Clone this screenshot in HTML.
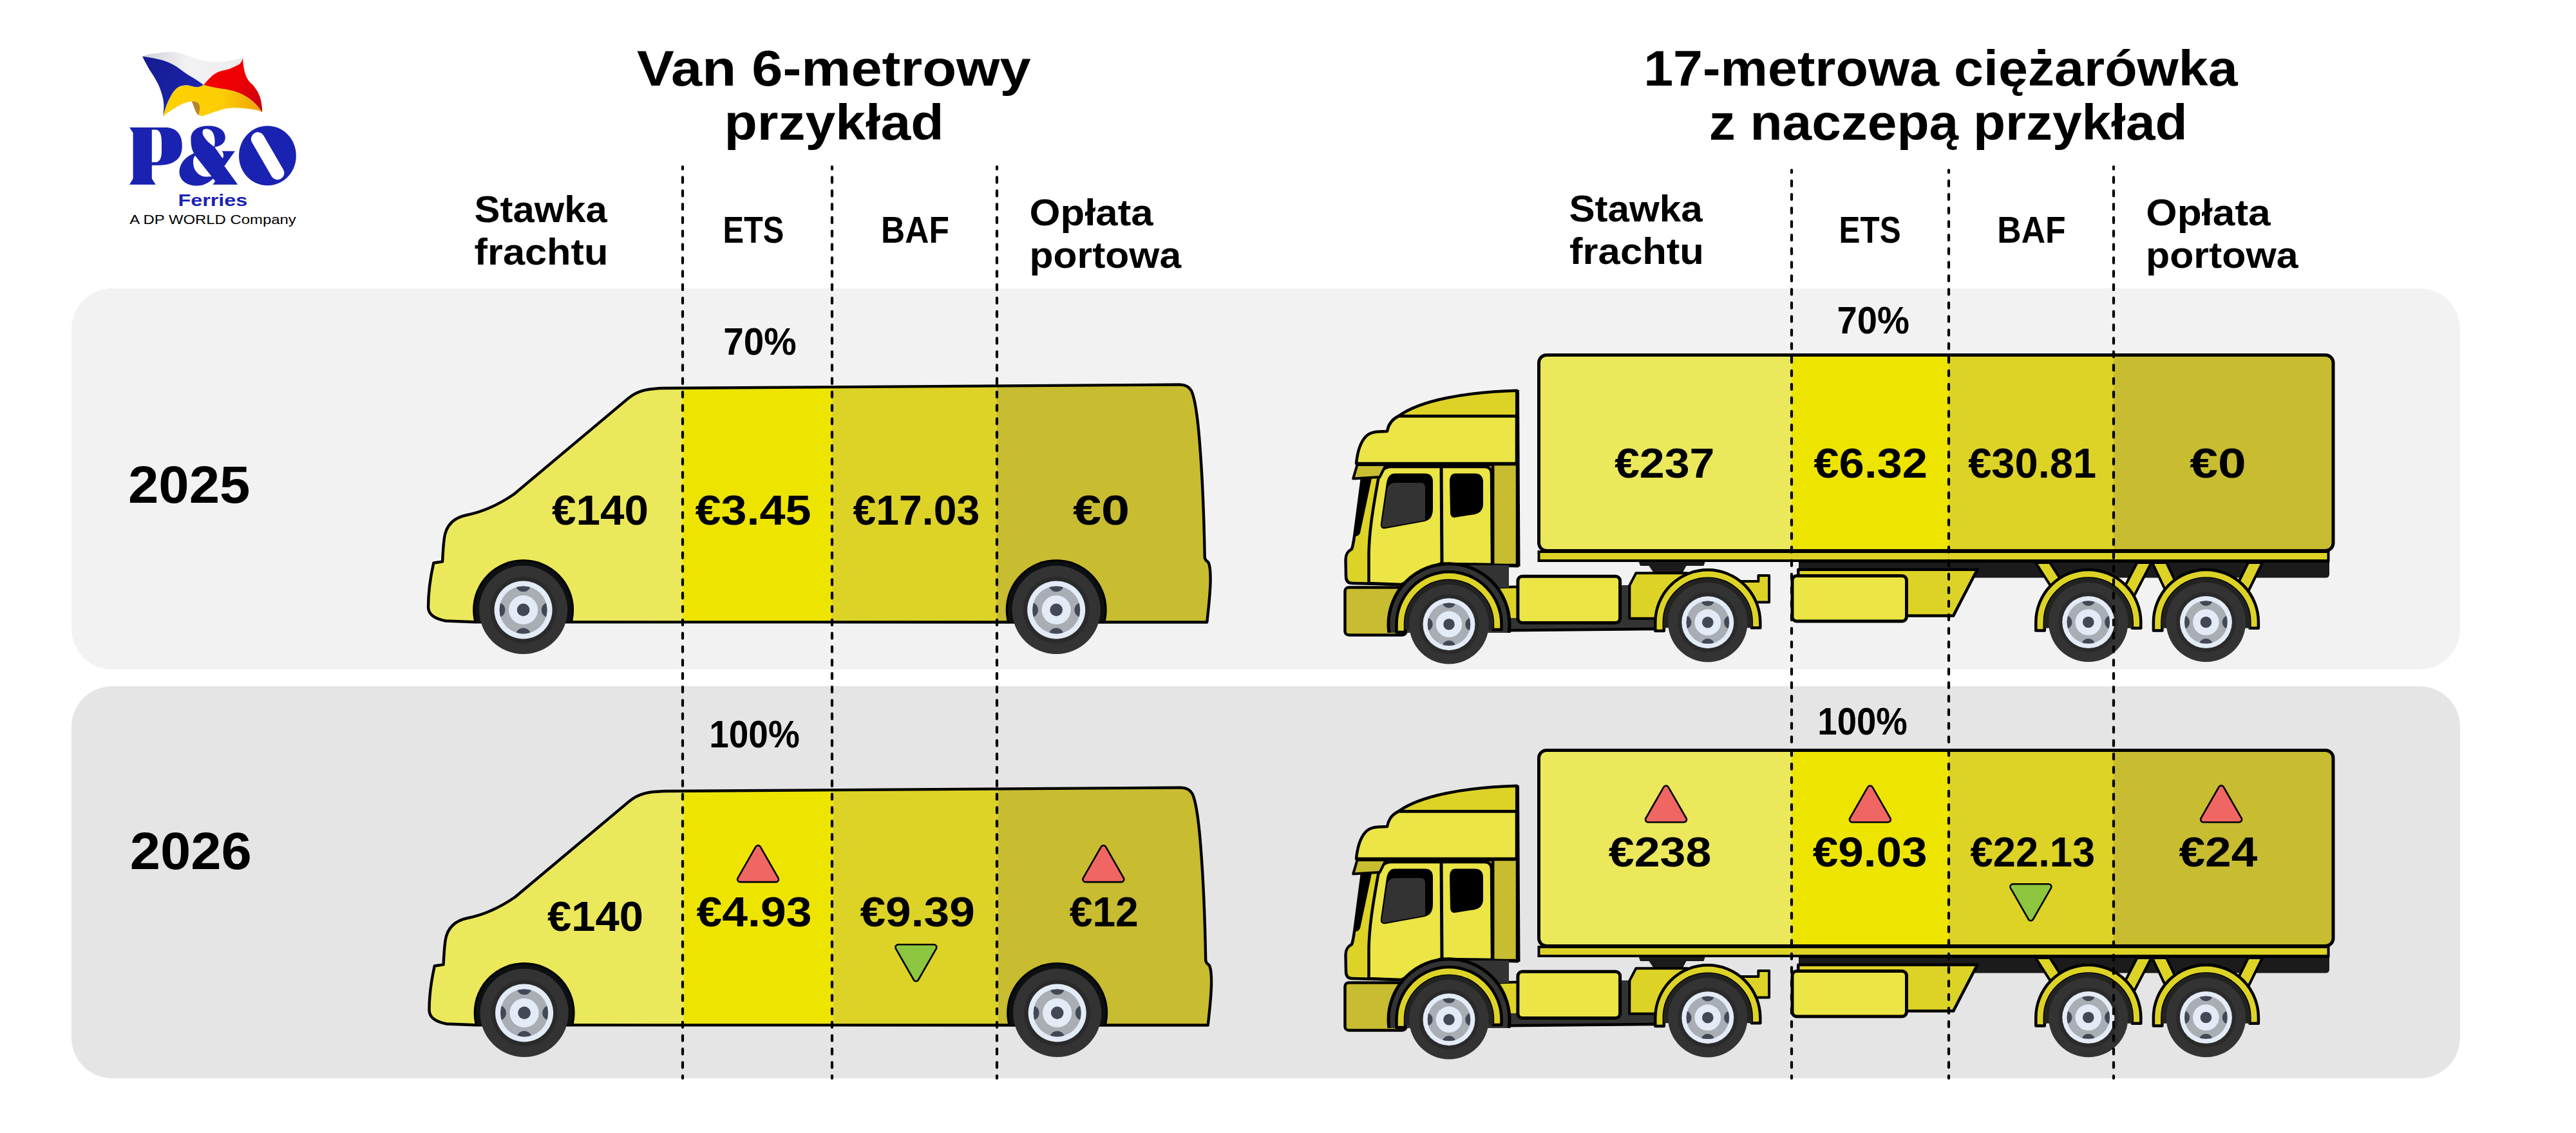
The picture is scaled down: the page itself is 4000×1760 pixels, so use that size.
<!DOCTYPE html>
<html><head><meta charset="utf-8"><title>P&amp;O Ferries</title>
<style>html,body{margin:0;padding:0;background:#fff;} body{width:4000px;height:1760px;overflow:hidden;font-family:"Liberation Sans",sans-serif;} svg{display:block;}</style>
</head><body>
<svg width="4000" height="1760" viewBox="0 0 4000 1760">
<rect width="4000" height="1760" fill="#ffffff"/>
<rect x="111" y="448" width="3709" height="592" rx="63" fill="#f2f2f2"/>
<rect x="111" y="1066" width="3709" height="609" rx="63" fill="#e5e5e5"/>

<defs>
<linearGradient id="gW" x1="0" y1="0" x2="1" y2="0"><stop offset="0" stop-color="#cfd0d6"/><stop offset="0.45" stop-color="#f2f2f4"/><stop offset="1" stop-color="#ececee"/></linearGradient>
<linearGradient id="gB" x1="0" y1="0" x2="1" y2="1"><stop offset="0" stop-color="#151a8c"/><stop offset="1" stop-color="#1f27b8"/></linearGradient>
<linearGradient id="gR" x1="0" y1="0" x2="1" y2="1"><stop offset="0" stop-color="#fa0000"/><stop offset="0.5" stop-color="#ee0004"/><stop offset="1" stop-color="#c4000f"/></linearGradient>
<linearGradient id="gY" x1="0" y1="0" x2="1" y2="0"><stop offset="0" stop-color="#ffd200"/><stop offset="0.6" stop-color="#fccd05"/><stop offset="1" stop-color="#eda10a"/></linearGradient>
</defs>
<path d="M 221.1 87.6 C 228 85 234 84 240.2 83.1 C 250 81.5 258 80.6 265.3 80.6 C 275 81 283 83 290.5 86.1 C 298 89 304 91 310.6 93.1 C 318 95 327 96.6 335.8 96.6 C 345 96.6 353 95 360.9 93.6 C 367 92.5 372 91 377.5 89.6 L 371 100.2 C 365 103 360 105.5 355.9 107.2 C 349 109 343 110 337.8 112.2 C 332 115 329 118 325.7 121.3 C 322 125 319 129 316.1 131.9 C 310 127 300 121 290.5 115.3 C 283 110 277 105 270.4 101.2 C 263 97 257 95 250.2 93.1 C 240 90.5 230 89 221.1 87.6 Z" fill="url(#gW)"/>
<path d="M 221.1 87.6 C 230 89 240 90.5 250.2 93.1 C 257 95 263 97 270.4 101.2 C 277 105 283 110 290.5 115.3 C 300 121 310 127 316.1 131.9 C 312 134 309 135.5 305.6 135.4 C 300 135 295 132.5 290.5 132.4 C 284 132.3 279 133.5 275.4 136.4 C 271 140 268 144 266.3 147.5 C 260 158 256 170 253.3 180.7 C 254 175 254.5 168 254.3 162.5 C 254 155 252 148 250.2 142.4 C 248 136 246 131 243.2 126.3 C 240 120 236 114 232.1 108.2 C 228 101 224 94 221.1 87.6 Z" fill="url(#gB)"/>
<path d="M 377.5 89.6 C 377 94 377.5 98 378 102.2 C 379 108 380.5 115 383 120.3 C 386 126 389 129 393.1 132.4 C 396 136 399 140 401.1 144.4 C 404 150 405.5 156 406.2 162.5 C 407 167 407.2 171 407.2 174.6 C 402 166 394 158 386.1 152.5 C 380 148 373 145 365.9 142.4 C 357 139.5 349 138.5 340.8 137.4 C 332 136 323 134 316.1 131.9 C 319 129 322 125 325.7 121.3 C 329 118 332 115 337.8 112.2 C 343 110 349 109 355.9 107.2 C 360 105.5 365 103 371 100.2 C 374 98 376 94 377.5 89.6 Z" fill="url(#gR)"/>
<path d="M 316.1 131.9 C 323 134 332 136 340.8 137.4 C 349 138.5 357 139.5 365.9 142.4 C 373 145 380 148 386.1 152.5 C 394 158 402 166 407.2 174.6 C 403 172.5 400 171 396.1 170.6 C 391 169.5 386 168.8 381 168.6 C 374 168 367 167.5 360.9 167.6 C 354 168 347 169.5 340.8 171.6 C 335 173 330 175 325.7 176.6 C 321 178 317 180 313.6 180.7 C 311 180 309.5 178.5 308.6 176.6 C 307.5 173 307.5 169 307.6 165.6 C 307 162 306 160 304.6 158.5 C 302.5 157.5 300.5 157.3 298.5 157.5 C 294 157.7 290 158.8 285.5 160.5 C 280 162.5 275 165.5 270.4 168.6 C 264 172.5 258.5 176.5 253.3 180.7 C 256 170 260 158 266.3 147.5 C 268 144 271 140 275.4 136.4 C 279 133.5 284 132.3 290.5 132.4 C 295 132.5 300 135 305.6 135.4 C 309 135.5 312 134 316.1 131.9 Z" fill="url(#gY)"/>
<path d="M 297.5 157.5 C 302 157 306 158 308.5 161 C 310.5 164 310.6 168 309.8 172 C 309 175 308.8 177 309.5 179.5 C 307 178 305 176 303.6 172.6 C 301.5 168 300 162 297.5 157.5 Z" fill="#b5852a"/>
<path d="M 201 197.9 L 259.9 197.9 C 272 199 279 206 281.6 216 C 284 227 283 240 276 247 C 269 254 258 256.7 246.9 256.7 L 235.8 256.7 L 235.8 277.6 L 241.8 286.8 L 201 286.8 L 206.6 277.6 L 206.6 206.2 Z M 235.8 201.6 L 235.8 252.1 L 242.3 252.1 C 248 251 251 246 251 234 L 251 221 C 251 209 248 202 242.3 201.6 Z" fill="#1a22b2" fill-rule="evenodd"/>
<path d="M 415.4 195.6 C 440 195.6 459.8 216 459.8 241.9 C 459.8 268 440 288.1 415.4 288.1 C 390.9 288.1 371 268 371 241.9 C 371 216 390.9 195.6 415.4 195.6 Z" fill="#1a22b2"/><rect x="374.6" y="231.8" width="82" height="21" rx="10.5" transform="rotate(60 415.6 242.3)" fill="#fff"/>
<path fill="#1a22b2" fill-rule="evenodd" d="M 369.2 286.7 L 330.4 286.7 L 334.2 281.5 L 331 277.5 C 325 283 317 288.6 305.9 288.6 C 290 288.6 278.5 280 278.5 267 C 278.5 255 287 244 301.2 238 C 298 233 296.4 226 296.4 216 C 296.4 203 307 195.6 323.8 195.6 C 340 195.6 349.8 203 349.8 213.5 C 349.8 222 343 227 333.3 228.6 L 345.5 246 C 348 243 347.5 238 344.6 234.7 L 364.9 234.7 L 348.4 257.9 Z M 319.1 200.3 C 314 200.5 313.5 206 316 211 C 319 217 326 224 332.8 227.7 C 334.5 220 333.5 211 330 205 C 327 201 323 200 319.1 200.3 Z M 303 241.8 C 299 245 299.5 255 301.5 261 C 304 268 311 274.5 320 274.5 C 323 274.5 326 274 328.5 273.9 L 303 241.8 Z"/><text x="276.5" y="319.7" font-family="'Liberation Sans', sans-serif" font-weight="bold" font-size="26.6" fill="#1a22b2" textLength="107.8" lengthAdjust="spacingAndGlyphs">Ferries</text><text x="201.3" y="347.6" font-family="'Liberation Sans', sans-serif" font-weight="normal" font-size="19.7" fill="#000" textLength="258.4" lengthAdjust="spacingAndGlyphs">A DP WORLD Company</text>
<g><clipPath id="vbr1"><path d="M 1874.2 966.5 L 736.9 966.3 L 692 964.5 C 676 961.5 665 955 665 943 C 665 922 668 898 673.3 874.5 L 687.1 872.4 C 687.5 862 688 850 690 835 C 693 815 705 804 725 800 C 745 796 770 787 798.3 767.5 L 975.4 618.9 C 990 607 1003 604 1030 603 L 1831.8 597.5 C 1840 597.5 1846 600 1850 607 C 1856 620 1860 650 1863 690 C 1867 740 1869.5 800 1870.7 866 C 1871 869 1873 871 1876 873.3 C 1879 878 1879.8 890 1879.5 905 C 1879 925 1876.5 945 1874.2 966.5 Z"/></clipPath>
<g clip-path="url(#vbr1)"><rect x="600" y="560" width="460" height="420" fill="#ebe85c"/><rect x="1060" y="560" width="232" height="420" fill="#ede500"/><rect x="1292" y="560" width="256" height="420" fill="#ddd326"/><rect x="1548" y="560" width="400" height="420" fill="#c8bc30"/></g>
<path d="M 1874.2 966.5 L 736.9 966.3 L 692 964.5 C 676 961.5 665 955 665 943 C 665 922 668 898 673.3 874.5 L 687.1 872.4 C 687.5 862 688 850 690 835 C 693 815 705 804 725 800 C 745 796 770 787 798.3 767.5 L 975.4 618.9 C 990 607 1003 604 1030 603 L 1831.8 597.5 C 1840 597.5 1846 600 1850 607 C 1856 620 1860 650 1863 690 C 1867 740 1869.5 800 1870.7 866 C 1871 869 1873 871 1876 873.3 C 1879 878 1879.8 890 1879.5 905 C 1879 925 1876.5 945 1874.2 966.5 Z" fill="none" stroke="#000" stroke-width="4.4" stroke-linejoin="round"/>
<clipPath id="var10"><rect x="722.6" y="857.4" width="180" height="109.1"/></clipPath>
<circle cx="812.6" cy="947.4" r="78.5" fill="#000" clip-path="url(#var10)"/>
<circle cx="812.6" cy="947.4" r="75.5" fill="#0d1012" clip-path="url(#var10)"/>
<circle cx="812.6" cy="947.4" r="68.60" fill="#333333"/>
<circle cx="812.6" cy="947.4" r="51.60" fill="#2a2a2a"/>
<circle cx="812.6" cy="947.4" r="45.00" fill="#e3ebf6"/>
<clipPath id="wcr10"><circle cx="812.6" cy="947.4" r="37.00"/></clipPath>
<circle cx="812.6" cy="947.4" r="37.00" fill="#a9adb4"/>
<g clip-path="url(#wcr10)" fill="#434856"><circle cx="812.6" cy="907.20" r="12.00"/><circle cx="812.6" cy="987.60" r="12.00"/><circle cx="772.40" cy="947.4" r="12.00"/><circle cx="852.80" cy="947.4" r="12.00"/></g>
<circle cx="812.6" cy="947.4" r="22.60" fill="#e3ebf6"/>
<circle cx="812.6" cy="947.4" r="9.80" fill="#434856"/>
<clipPath id="var11"><rect x="1550.2" y="857.4" width="180" height="109.1"/></clipPath>
<circle cx="1640.2" cy="947.4" r="78.5" fill="#000" clip-path="url(#var11)"/>
<circle cx="1640.2" cy="947.4" r="75.5" fill="#0d1012" clip-path="url(#var11)"/>
<circle cx="1640.2" cy="947.4" r="68.60" fill="#333333"/>
<circle cx="1640.2" cy="947.4" r="51.60" fill="#2a2a2a"/>
<circle cx="1640.2" cy="947.4" r="45.00" fill="#e3ebf6"/>
<clipPath id="wcr11"><circle cx="1640.2" cy="947.4" r="37.00"/></clipPath>
<circle cx="1640.2" cy="947.4" r="37.00" fill="#a9adb4"/>
<g clip-path="url(#wcr11)" fill="#434856"><circle cx="1640.2" cy="907.20" r="12.00"/><circle cx="1640.2" cy="987.60" r="12.00"/><circle cx="1600.00" cy="947.4" r="12.00"/><circle cx="1680.40" cy="947.4" r="12.00"/></g>
<circle cx="1640.2" cy="947.4" r="22.60" fill="#e3ebf6"/>
<circle cx="1640.2" cy="947.4" r="9.80" fill="#434856"/></g>
<g transform="translate(1.5,626)"><clipPath id="vbr2"><path d="M 1874.2 966.5 L 736.9 966.3 L 692 964.5 C 676 961.5 665 955 665 943 C 665 922 668 898 673.3 874.5 L 687.1 872.4 C 687.5 862 688 850 690 835 C 693 815 705 804 725 800 C 745 796 770 787 798.3 767.5 L 975.4 618.9 C 990 607 1003 604 1030 603 L 1831.8 597.5 C 1840 597.5 1846 600 1850 607 C 1856 620 1860 650 1863 690 C 1867 740 1869.5 800 1870.7 866 C 1871 869 1873 871 1876 873.3 C 1879 878 1879.8 890 1879.5 905 C 1879 925 1876.5 945 1874.2 966.5 Z"/></clipPath>
<g clip-path="url(#vbr2)"><rect x="600" y="560" width="460" height="420" fill="#ebe85c"/><rect x="1060" y="560" width="232" height="420" fill="#ede500"/><rect x="1292" y="560" width="256" height="420" fill="#ddd326"/><rect x="1548" y="560" width="400" height="420" fill="#c8bc30"/></g>
<path d="M 1874.2 966.5 L 736.9 966.3 L 692 964.5 C 676 961.5 665 955 665 943 C 665 922 668 898 673.3 874.5 L 687.1 872.4 C 687.5 862 688 850 690 835 C 693 815 705 804 725 800 C 745 796 770 787 798.3 767.5 L 975.4 618.9 C 990 607 1003 604 1030 603 L 1831.8 597.5 C 1840 597.5 1846 600 1850 607 C 1856 620 1860 650 1863 690 C 1867 740 1869.5 800 1870.7 866 C 1871 869 1873 871 1876 873.3 C 1879 878 1879.8 890 1879.5 905 C 1879 925 1876.5 945 1874.2 966.5 Z" fill="none" stroke="#000" stroke-width="4.4" stroke-linejoin="round"/>
<clipPath id="var20"><rect x="722.6" y="857.4" width="180" height="109.1"/></clipPath>
<circle cx="812.6" cy="947.4" r="78.5" fill="#000" clip-path="url(#var20)"/>
<circle cx="812.6" cy="947.4" r="75.5" fill="#0d1012" clip-path="url(#var20)"/>
<circle cx="812.6" cy="947.4" r="68.60" fill="#333333"/>
<circle cx="812.6" cy="947.4" r="51.60" fill="#2a2a2a"/>
<circle cx="812.6" cy="947.4" r="45.00" fill="#e3ebf6"/>
<clipPath id="wcr20"><circle cx="812.6" cy="947.4" r="37.00"/></clipPath>
<circle cx="812.6" cy="947.4" r="37.00" fill="#a9adb4"/>
<g clip-path="url(#wcr20)" fill="#434856"><circle cx="812.6" cy="907.20" r="12.00"/><circle cx="812.6" cy="987.60" r="12.00"/><circle cx="772.40" cy="947.4" r="12.00"/><circle cx="852.80" cy="947.4" r="12.00"/></g>
<circle cx="812.6" cy="947.4" r="22.60" fill="#e3ebf6"/>
<circle cx="812.6" cy="947.4" r="9.80" fill="#434856"/>
<clipPath id="var21"><rect x="1550.2" y="857.4" width="180" height="109.1"/></clipPath>
<circle cx="1640.2" cy="947.4" r="78.5" fill="#000" clip-path="url(#var21)"/>
<circle cx="1640.2" cy="947.4" r="75.5" fill="#0d1012" clip-path="url(#var21)"/>
<circle cx="1640.2" cy="947.4" r="68.60" fill="#333333"/>
<circle cx="1640.2" cy="947.4" r="51.60" fill="#2a2a2a"/>
<circle cx="1640.2" cy="947.4" r="45.00" fill="#e3ebf6"/>
<clipPath id="wcr21"><circle cx="1640.2" cy="947.4" r="37.00"/></clipPath>
<circle cx="1640.2" cy="947.4" r="37.00" fill="#a9adb4"/>
<g clip-path="url(#wcr21)" fill="#434856"><circle cx="1640.2" cy="907.20" r="12.00"/><circle cx="1640.2" cy="987.60" r="12.00"/><circle cx="1600.00" cy="947.4" r="12.00"/><circle cx="1680.40" cy="947.4" r="12.00"/></g>
<circle cx="1640.2" cy="947.4" r="22.60" fill="#e3ebf6"/>
<circle cx="1640.2" cy="947.4" r="9.80" fill="#434856"/></g>
<g><clipPath id="tbr1"><rect x="2389.5" y="551.5" width="1233.5" height="304" rx="12"/></clipPath>
<g clip-path="url(#tbr1)"><rect x="2380" y="540" width="402" height="330" fill="#ebe85c"/><rect x="2782" y="540" width="244" height="330" fill="#ede500"/><rect x="3026" y="540" width="256" height="330" fill="#ddd326"/><rect x="3282" y="540" width="360" height="330" fill="#c8bc30"/></g>
<path d="M 2793 870 L 3617 870 L 3617 892 Q 3617 897.5 3611 897.5 L 2793 897.5 Z" fill="#1b1b1b"/>
<path d="M 2544.6 872 L 2647.9 872 L 2645.5 879 L 2618.5 879 L 2612.9 889.4 L 2567.6 889.4 L 2560.5 879 L 2547 879 Z" fill="#1b1b1b"/>
<rect x="2389.5" y="857" width="1226" height="14" fill="#ddd326" stroke="#000" stroke-width="4"/>
<rect x="2389.5" y="551.5" width="1233.5" height="304" rx="12" fill="none" stroke="#000" stroke-width="5"/>
<path d="M 2792.3 884.8 L 3070.3 884.8 L 3033.1 956.6 L 2920 956.6 L 2920 905 L 2792.3 905 Z" fill="#ddd326" stroke="#000" stroke-width="4.5" stroke-linejoin="round"/>
<rect x="2783" y="894.5" width="177.5" height="70.5" rx="7" fill="#ebe545" stroke="#000" stroke-width="5"/>
<path d="M 3161 874 L 3183 874 L 3222 935 L 3200 935 Z" fill="#ddd326" stroke="#000" stroke-width="4" stroke-linejoin="round"/>
<path d="M 3318.5 874 L 3340.6 874 L 3309 935 L 3287 935 Z" fill="#ddd326" stroke="#000" stroke-width="4" stroke-linejoin="round"/>
<path d="M 3342 874 L 3364 874 L 3393 935 L 3371 935 Z" fill="#ddd326" stroke="#000" stroke-width="4" stroke-linejoin="round"/>
<path d="M 3491 874 L 3513 874 L 3483 935 L 3461 935 Z" fill="#ddd326" stroke="#000" stroke-width="4" stroke-linejoin="round"/>
<line x1="2793" y1="872" x2="3617" y2="872" stroke="#000" stroke-width="4"/>
<path d="M 3161.3 979.5 L 3161.3 966.5 A 81.5 81.5 0 0 1 3324.3 966.5 L 3324.3 975.8 L 3310.8 975.8 L 3310.8 966.5 A 68 68 0 0 0 3174.8 966.5 L 3174.8 979.5 Z" fill="#ddd326" stroke="#000" stroke-width="4.5" stroke-linejoin="round"/>
<clipPath id="trr10"><rect x="3162.8" y="886.5" width="160" height="89.3"/></clipPath>
<circle cx="3242.8" cy="966.5" r="69" fill="#222220" clip-path="url(#trr10)"/>
<circle cx="3242.8" cy="966.5" r="61.74" fill="#333333"/>
<circle cx="3242.8" cy="966.5" r="46.44" fill="#2a2a2a"/>
<circle cx="3242.8" cy="966.5" r="40.50" fill="#e3ebf6"/>
<clipPath id="wctr10"><circle cx="3242.8" cy="966.5" r="33.30"/></clipPath>
<circle cx="3242.8" cy="966.5" r="33.30" fill="#a9adb4"/>
<g clip-path="url(#wctr10)" fill="#434856"><circle cx="3242.8" cy="930.32" r="10.80"/><circle cx="3242.8" cy="1002.68" r="10.80"/><circle cx="3206.62" cy="966.5" r="10.80"/><circle cx="3278.98" cy="966.5" r="10.80"/></g>
<circle cx="3242.8" cy="966.5" r="20.34" fill="#e3ebf6"/>
<circle cx="3242.8" cy="966.5" r="8.82" fill="#434856"/>
<path d="M 3343.9 979.5 L 3343.9 966.5 A 81.5 81.5 0 0 1 3506.9 966.5 L 3506.9 975.8 L 3493.4 975.8 L 3493.4 966.5 A 68 68 0 0 0 3357.4 966.5 L 3357.4 979.5 Z" fill="#ddd326" stroke="#000" stroke-width="4.5" stroke-linejoin="round"/>
<clipPath id="trr11"><rect x="3345.4" y="886.5" width="160" height="89.3"/></clipPath>
<circle cx="3425.4" cy="966.5" r="69" fill="#222220" clip-path="url(#trr11)"/>
<circle cx="3425.4" cy="966.5" r="61.74" fill="#333333"/>
<circle cx="3425.4" cy="966.5" r="46.44" fill="#2a2a2a"/>
<circle cx="3425.4" cy="966.5" r="40.50" fill="#e3ebf6"/>
<clipPath id="wctr11"><circle cx="3425.4" cy="966.5" r="33.30"/></clipPath>
<circle cx="3425.4" cy="966.5" r="33.30" fill="#a9adb4"/>
<g clip-path="url(#wctr11)" fill="#434856"><circle cx="3425.4" cy="930.32" r="10.80"/><circle cx="3425.4" cy="1002.68" r="10.80"/><circle cx="3389.22" cy="966.5" r="10.80"/><circle cx="3461.58" cy="966.5" r="10.80"/></g>
<circle cx="3425.4" cy="966.5" r="20.34" fill="#e3ebf6"/>
<circle cx="3425.4" cy="966.5" r="8.82" fill="#434856"/>
<path d="M 2170 959 L 2570 957 L 2570 977 L 2170 982 Z" fill="#333333"/>
<path d="M 2170 981 L 2570 977" stroke="#000" stroke-width="4.5"/>
<rect x="2300" y="913" width="60" height="47" fill="#ddd326"/>
<path d="M 2300 913 L 2358 911.5" stroke="#000" stroke-width="4"/>
<rect x="2512" y="909" width="24" height="52" fill="#333333"/>
<path d="M 2530.4 909.4 L 2540.3 890.3 L 2620 890.3 L 2620 960.7 L 2530.3 960.7 Z" fill="#ddd326" stroke="#000" stroke-width="4" stroke-linejoin="round"/>
<path d="M 2700 902.9 L 2730.4 902.9 L 2730.4 894.1 L 2747.1 894.1 L 2747.1 935.4 L 2720 935.4 Z" fill="#ddd326" stroke="#000" stroke-width="4" stroke-linejoin="round"/>
<rect x="2088.5" y="912.4" width="95" height="74" rx="6" fill="#c8bc30" stroke="#000" stroke-width="4.5"/>
<rect x="2356.9" y="895.2" width="158.7" height="72.3" rx="7" fill="#ebe545" stroke="#000" stroke-width="5"/>
<path d="M 2171.7 646.4 C 2205 622 2275 609 2355.2 606.8 L 2355.2 646.4 Z" fill="#ddd326" stroke="#000" stroke-width="4.5" stroke-linejoin="round"/>
<path d="M 2171.7 646.4 L 2355 646.4 L 2355 720 L 2106 720 C 2108 700 2112 688 2120 679 C 2126 672 2134 670 2154 670 C 2156 658 2162 651 2171.7 646.4 Z" fill="#ebe545" stroke="#000" stroke-width="4.5" stroke-linejoin="round"/>
<rect x="2318" y="721" width="38" height="157" fill="#c8bc30" stroke="#000" stroke-width="4.5"/>
<path d="M 2107.5 722 L 2318 722 L 2318 877 L 2236 876 L 2176 908 L 2100 906 C 2093 906 2090 902 2090 895 L 2089.5 869.5 C 2089.5 860 2093 856 2099 853 C 2101 848 2102 840 2103.3 831.4 L 2115 742.4 Z" fill="#ddd326" stroke="#000" stroke-width="4.5" stroke-linejoin="round"/>
<path d="M 2160 725 L 2305 725 C 2312 725 2316 729 2316 736 L 2317 877 L 2236 876 L 2176 908 L 2125.5 906 L 2125.5 860 C 2126 830 2130 800 2140 745 C 2143 731 2150 725 2160 725 Z" fill="#ebe545" stroke="#000" stroke-width="4.5" stroke-linejoin="round"/>
<path d="M 2115 743 L 2130 743 L 2112 828 C 2110 832 2108 833 2103 833 Z" fill="#000"/>
<line x1="2238" y1="725" x2="2239" y2="876" stroke="#000" stroke-width="5"/>
<path d="M 2166 735.5 L 2212 735.5 C 2221 735.5 2225 740 2225 748 L 2225 790 C 2225 803 2220 808 2212 810 L 2152 821 C 2146 822 2143 819 2144 813 L 2153 750 C 2155 740 2159 735.5 2166 735.5 Z" fill="#000"/>
<path d="M 2168 750 L 2206 750 C 2211 750 2213 753 2213 758 L 2213 808 L 2152 819 C 2147 820 2145 818 2146 813 L 2154 760 C 2155 753 2160 750 2168 750 Z" fill="#333"/>
<path d="M 2260 735.5 L 2290 735.5 C 2298 735.5 2303 740 2303 748 L 2303 783 C 2303 792 2298 797 2290 799 L 2258 804 C 2254 804 2252 800 2252 796 L 2251 748 C 2251 740 2254 735.5 2260 735.5 Z" fill="#000"/>
<path d="M 2107.5 722 L 2152 722 L 2142.5 741 L 2101.2 743.4 Z" fill="#c8bc30" stroke="#000" stroke-width="4" stroke-linejoin="round"/>
<line x1="2356.5" y1="606" x2="2358" y2="880" stroke="#000" stroke-width="5"/>
<path d="M 2236 876 L 2358 879" stroke="#000" stroke-width="5"/>
<clipPath id="far1"><rect x="2140" y="860" width="215" height="123"/></clipPath>
<g clip-path="url(#far1)"><rect x="2250" y="878" width="93" height="35" fill="#333333"/><circle cx="2250" cy="969.7" r="94" fill="#333333" stroke="#000" stroke-width="5"/></g>
<path d="M 2168.5 982 L 2168.5 969.7 A 81.5 81.5 0 0 1 2331.5 969.7 L 2331.5 978 L 2318.0 978 L 2318.0 969.7 A 68 68 0 0 0 2182.0 969.7 L 2182.0 982 Z" fill="#ddd326" stroke="#000" stroke-width="4.5" stroke-linejoin="round"/>
<clipPath id="drr10"><rect x="2170" y="889.7" width="160" height="88.3"/></clipPath>
<circle cx="2250" cy="969.7" r="69" fill="#222220" clip-path="url(#drr10)"/>
<circle cx="2250" cy="969.7" r="61.74" fill="#333333"/>
<circle cx="2250" cy="969.7" r="46.44" fill="#2a2a2a"/>
<circle cx="2250" cy="969.7" r="40.50" fill="#e3ebf6"/>
<clipPath id="wccr10"><circle cx="2250" cy="969.7" r="33.30"/></clipPath>
<circle cx="2250" cy="969.7" r="33.30" fill="#a9adb4"/>
<g clip-path="url(#wccr10)" fill="#434856"><circle cx="2250" cy="933.52" r="10.80"/><circle cx="2250" cy="1005.88" r="10.80"/><circle cx="2213.82" cy="969.7" r="10.80"/><circle cx="2286.18" cy="969.7" r="10.80"/></g>
<circle cx="2250" cy="969.7" r="20.34" fill="#e3ebf6"/>
<circle cx="2250" cy="969.7" r="8.82" fill="#434856"/>
<path d="M 2570.3 980 L 2570.3 966.7 A 81.5 81.5 0 0 1 2733.3 966.7 L 2733.3 975.2 L 2719.8 975.2 L 2719.8 966.7 A 68 68 0 0 0 2583.8 966.7 L 2583.8 980 Z" fill="#ddd326" stroke="#000" stroke-width="4.5" stroke-linejoin="round"/>
<clipPath id="drr11"><rect x="2571.8" y="886.7" width="160" height="88.5"/></clipPath>
<circle cx="2651.8" cy="966.7" r="69" fill="#222220" clip-path="url(#drr11)"/>
<circle cx="2651.8" cy="966.7" r="61.74" fill="#333333"/>
<circle cx="2651.8" cy="966.7" r="46.44" fill="#2a2a2a"/>
<circle cx="2651.8" cy="966.7" r="40.50" fill="#e3ebf6"/>
<clipPath id="wccr11"><circle cx="2651.8" cy="966.7" r="33.30"/></clipPath>
<circle cx="2651.8" cy="966.7" r="33.30" fill="#a9adb4"/>
<g clip-path="url(#wccr11)" fill="#434856"><circle cx="2651.8" cy="930.52" r="10.80"/><circle cx="2651.8" cy="1002.88" r="10.80"/><circle cx="2615.62" cy="966.7" r="10.80"/><circle cx="2687.98" cy="966.7" r="10.80"/></g>
<circle cx="2651.8" cy="966.7" r="20.34" fill="#e3ebf6"/>
<circle cx="2651.8" cy="966.7" r="8.82" fill="#434856"/></g>
<g transform="translate(0,614)"><clipPath id="tbr2"><rect x="2389.5" y="551.5" width="1233.5" height="304" rx="12"/></clipPath>
<g clip-path="url(#tbr2)"><rect x="2380" y="540" width="402" height="330" fill="#ebe85c"/><rect x="2782" y="540" width="244" height="330" fill="#ede500"/><rect x="3026" y="540" width="256" height="330" fill="#ddd326"/><rect x="3282" y="540" width="360" height="330" fill="#c8bc30"/></g>
<path d="M 2793 870 L 3617 870 L 3617 892 Q 3617 897.5 3611 897.5 L 2793 897.5 Z" fill="#1b1b1b"/>
<path d="M 2544.6 872 L 2647.9 872 L 2645.5 879 L 2618.5 879 L 2612.9 889.4 L 2567.6 889.4 L 2560.5 879 L 2547 879 Z" fill="#1b1b1b"/>
<rect x="2389.5" y="857" width="1226" height="14" fill="#ddd326" stroke="#000" stroke-width="4"/>
<rect x="2389.5" y="551.5" width="1233.5" height="304" rx="12" fill="none" stroke="#000" stroke-width="5"/>
<path d="M 2792.3 884.8 L 3070.3 884.8 L 3033.1 956.6 L 2920 956.6 L 2920 905 L 2792.3 905 Z" fill="#ddd326" stroke="#000" stroke-width="4.5" stroke-linejoin="round"/>
<rect x="2783" y="894.5" width="177.5" height="70.5" rx="7" fill="#ebe545" stroke="#000" stroke-width="5"/>
<path d="M 3161 874 L 3183 874 L 3222 935 L 3200 935 Z" fill="#ddd326" stroke="#000" stroke-width="4" stroke-linejoin="round"/>
<path d="M 3318.5 874 L 3340.6 874 L 3309 935 L 3287 935 Z" fill="#ddd326" stroke="#000" stroke-width="4" stroke-linejoin="round"/>
<path d="M 3342 874 L 3364 874 L 3393 935 L 3371 935 Z" fill="#ddd326" stroke="#000" stroke-width="4" stroke-linejoin="round"/>
<path d="M 3491 874 L 3513 874 L 3483 935 L 3461 935 Z" fill="#ddd326" stroke="#000" stroke-width="4" stroke-linejoin="round"/>
<line x1="2793" y1="872" x2="3617" y2="872" stroke="#000" stroke-width="4"/>
<path d="M 3161.3 979.5 L 3161.3 966.5 A 81.5 81.5 0 0 1 3324.3 966.5 L 3324.3 975.8 L 3310.8 975.8 L 3310.8 966.5 A 68 68 0 0 0 3174.8 966.5 L 3174.8 979.5 Z" fill="#ddd326" stroke="#000" stroke-width="4.5" stroke-linejoin="round"/>
<clipPath id="trr20"><rect x="3162.8" y="886.5" width="160" height="89.3"/></clipPath>
<circle cx="3242.8" cy="966.5" r="69" fill="#222220" clip-path="url(#trr20)"/>
<circle cx="3242.8" cy="966.5" r="61.74" fill="#333333"/>
<circle cx="3242.8" cy="966.5" r="46.44" fill="#2a2a2a"/>
<circle cx="3242.8" cy="966.5" r="40.50" fill="#e3ebf6"/>
<clipPath id="wctr20"><circle cx="3242.8" cy="966.5" r="33.30"/></clipPath>
<circle cx="3242.8" cy="966.5" r="33.30" fill="#a9adb4"/>
<g clip-path="url(#wctr20)" fill="#434856"><circle cx="3242.8" cy="930.32" r="10.80"/><circle cx="3242.8" cy="1002.68" r="10.80"/><circle cx="3206.62" cy="966.5" r="10.80"/><circle cx="3278.98" cy="966.5" r="10.80"/></g>
<circle cx="3242.8" cy="966.5" r="20.34" fill="#e3ebf6"/>
<circle cx="3242.8" cy="966.5" r="8.82" fill="#434856"/>
<path d="M 3343.9 979.5 L 3343.9 966.5 A 81.5 81.5 0 0 1 3506.9 966.5 L 3506.9 975.8 L 3493.4 975.8 L 3493.4 966.5 A 68 68 0 0 0 3357.4 966.5 L 3357.4 979.5 Z" fill="#ddd326" stroke="#000" stroke-width="4.5" stroke-linejoin="round"/>
<clipPath id="trr21"><rect x="3345.4" y="886.5" width="160" height="89.3"/></clipPath>
<circle cx="3425.4" cy="966.5" r="69" fill="#222220" clip-path="url(#trr21)"/>
<circle cx="3425.4" cy="966.5" r="61.74" fill="#333333"/>
<circle cx="3425.4" cy="966.5" r="46.44" fill="#2a2a2a"/>
<circle cx="3425.4" cy="966.5" r="40.50" fill="#e3ebf6"/>
<clipPath id="wctr21"><circle cx="3425.4" cy="966.5" r="33.30"/></clipPath>
<circle cx="3425.4" cy="966.5" r="33.30" fill="#a9adb4"/>
<g clip-path="url(#wctr21)" fill="#434856"><circle cx="3425.4" cy="930.32" r="10.80"/><circle cx="3425.4" cy="1002.68" r="10.80"/><circle cx="3389.22" cy="966.5" r="10.80"/><circle cx="3461.58" cy="966.5" r="10.80"/></g>
<circle cx="3425.4" cy="966.5" r="20.34" fill="#e3ebf6"/>
<circle cx="3425.4" cy="966.5" r="8.82" fill="#434856"/>
<path d="M 2170 959 L 2570 957 L 2570 977 L 2170 982 Z" fill="#333333"/>
<path d="M 2170 981 L 2570 977" stroke="#000" stroke-width="4.5"/>
<rect x="2300" y="913" width="60" height="47" fill="#ddd326"/>
<path d="M 2300 913 L 2358 911.5" stroke="#000" stroke-width="4"/>
<rect x="2512" y="909" width="24" height="52" fill="#333333"/>
<path d="M 2530.4 909.4 L 2540.3 890.3 L 2620 890.3 L 2620 960.7 L 2530.3 960.7 Z" fill="#ddd326" stroke="#000" stroke-width="4" stroke-linejoin="round"/>
<path d="M 2700 902.9 L 2730.4 902.9 L 2730.4 894.1 L 2747.1 894.1 L 2747.1 935.4 L 2720 935.4 Z" fill="#ddd326" stroke="#000" stroke-width="4" stroke-linejoin="round"/>
<rect x="2088.5" y="912.4" width="95" height="74" rx="6" fill="#c8bc30" stroke="#000" stroke-width="4.5"/>
<rect x="2356.9" y="895.2" width="158.7" height="72.3" rx="7" fill="#ebe545" stroke="#000" stroke-width="5"/>
<path d="M 2171.7 646.4 C 2205 622 2275 609 2355.2 606.8 L 2355.2 646.4 Z" fill="#ddd326" stroke="#000" stroke-width="4.5" stroke-linejoin="round"/>
<path d="M 2171.7 646.4 L 2355 646.4 L 2355 720 L 2106 720 C 2108 700 2112 688 2120 679 C 2126 672 2134 670 2154 670 C 2156 658 2162 651 2171.7 646.4 Z" fill="#ebe545" stroke="#000" stroke-width="4.5" stroke-linejoin="round"/>
<rect x="2318" y="721" width="38" height="157" fill="#c8bc30" stroke="#000" stroke-width="4.5"/>
<path d="M 2107.5 722 L 2318 722 L 2318 877 L 2236 876 L 2176 908 L 2100 906 C 2093 906 2090 902 2090 895 L 2089.5 869.5 C 2089.5 860 2093 856 2099 853 C 2101 848 2102 840 2103.3 831.4 L 2115 742.4 Z" fill="#ddd326" stroke="#000" stroke-width="4.5" stroke-linejoin="round"/>
<path d="M 2160 725 L 2305 725 C 2312 725 2316 729 2316 736 L 2317 877 L 2236 876 L 2176 908 L 2125.5 906 L 2125.5 860 C 2126 830 2130 800 2140 745 C 2143 731 2150 725 2160 725 Z" fill="#ebe545" stroke="#000" stroke-width="4.5" stroke-linejoin="round"/>
<path d="M 2115 743 L 2130 743 L 2112 828 C 2110 832 2108 833 2103 833 Z" fill="#000"/>
<line x1="2238" y1="725" x2="2239" y2="876" stroke="#000" stroke-width="5"/>
<path d="M 2166 735.5 L 2212 735.5 C 2221 735.5 2225 740 2225 748 L 2225 790 C 2225 803 2220 808 2212 810 L 2152 821 C 2146 822 2143 819 2144 813 L 2153 750 C 2155 740 2159 735.5 2166 735.5 Z" fill="#000"/>
<path d="M 2168 750 L 2206 750 C 2211 750 2213 753 2213 758 L 2213 808 L 2152 819 C 2147 820 2145 818 2146 813 L 2154 760 C 2155 753 2160 750 2168 750 Z" fill="#333"/>
<path d="M 2260 735.5 L 2290 735.5 C 2298 735.5 2303 740 2303 748 L 2303 783 C 2303 792 2298 797 2290 799 L 2258 804 C 2254 804 2252 800 2252 796 L 2251 748 C 2251 740 2254 735.5 2260 735.5 Z" fill="#000"/>
<path d="M 2107.5 722 L 2152 722 L 2142.5 741 L 2101.2 743.4 Z" fill="#c8bc30" stroke="#000" stroke-width="4" stroke-linejoin="round"/>
<line x1="2356.5" y1="606" x2="2358" y2="880" stroke="#000" stroke-width="5"/>
<path d="M 2236 876 L 2358 879" stroke="#000" stroke-width="5"/>
<clipPath id="far2"><rect x="2140" y="860" width="215" height="123"/></clipPath>
<g clip-path="url(#far2)"><rect x="2250" y="878" width="93" height="35" fill="#333333"/><circle cx="2250" cy="969.7" r="94" fill="#333333" stroke="#000" stroke-width="5"/></g>
<path d="M 2168.5 982 L 2168.5 969.7 A 81.5 81.5 0 0 1 2331.5 969.7 L 2331.5 978 L 2318.0 978 L 2318.0 969.7 A 68 68 0 0 0 2182.0 969.7 L 2182.0 982 Z" fill="#ddd326" stroke="#000" stroke-width="4.5" stroke-linejoin="round"/>
<clipPath id="drr20"><rect x="2170" y="889.7" width="160" height="88.3"/></clipPath>
<circle cx="2250" cy="969.7" r="69" fill="#222220" clip-path="url(#drr20)"/>
<circle cx="2250" cy="969.7" r="61.74" fill="#333333"/>
<circle cx="2250" cy="969.7" r="46.44" fill="#2a2a2a"/>
<circle cx="2250" cy="969.7" r="40.50" fill="#e3ebf6"/>
<clipPath id="wccr20"><circle cx="2250" cy="969.7" r="33.30"/></clipPath>
<circle cx="2250" cy="969.7" r="33.30" fill="#a9adb4"/>
<g clip-path="url(#wccr20)" fill="#434856"><circle cx="2250" cy="933.52" r="10.80"/><circle cx="2250" cy="1005.88" r="10.80"/><circle cx="2213.82" cy="969.7" r="10.80"/><circle cx="2286.18" cy="969.7" r="10.80"/></g>
<circle cx="2250" cy="969.7" r="20.34" fill="#e3ebf6"/>
<circle cx="2250" cy="969.7" r="8.82" fill="#434856"/>
<path d="M 2570.3 980 L 2570.3 966.7 A 81.5 81.5 0 0 1 2733.3 966.7 L 2733.3 975.2 L 2719.8 975.2 L 2719.8 966.7 A 68 68 0 0 0 2583.8 966.7 L 2583.8 980 Z" fill="#ddd326" stroke="#000" stroke-width="4.5" stroke-linejoin="round"/>
<clipPath id="drr21"><rect x="2571.8" y="886.7" width="160" height="88.5"/></clipPath>
<circle cx="2651.8" cy="966.7" r="69" fill="#222220" clip-path="url(#drr21)"/>
<circle cx="2651.8" cy="966.7" r="61.74" fill="#333333"/>
<circle cx="2651.8" cy="966.7" r="46.44" fill="#2a2a2a"/>
<circle cx="2651.8" cy="966.7" r="40.50" fill="#e3ebf6"/>
<clipPath id="wccr21"><circle cx="2651.8" cy="966.7" r="33.30"/></clipPath>
<circle cx="2651.8" cy="966.7" r="33.30" fill="#a9adb4"/>
<g clip-path="url(#wccr21)" fill="#434856"><circle cx="2651.8" cy="930.52" r="10.80"/><circle cx="2651.8" cy="1002.88" r="10.80"/><circle cx="2615.62" cy="966.7" r="10.80"/><circle cx="2687.98" cy="966.7" r="10.80"/></g>
<circle cx="2651.8" cy="966.7" r="20.34" fill="#e3ebf6"/>
<circle cx="2651.8" cy="966.7" r="8.82" fill="#434856"/></g>
<line x1="1060" y1="259" x2="1060" y2="1675" stroke="#000" stroke-width="4.2" stroke-linecap="round" stroke-dasharray="8.1 12.73" stroke-dashoffset="4.38"/><line x1="1292" y1="259" x2="1292" y2="1675" stroke="#000" stroke-width="4.2" stroke-linecap="round" stroke-dasharray="8.1 12.73" stroke-dashoffset="4.38"/><line x1="1548" y1="259" x2="1548" y2="1675" stroke="#000" stroke-width="4.2" stroke-linecap="round" stroke-dasharray="8.1 12.73" stroke-dashoffset="4.38"/><line x1="2782" y1="264.3" x2="2782" y2="1675" stroke="#000" stroke-width="4.2" stroke-linecap="round" stroke-dasharray="8.1 12.966" stroke-dashoffset="4.52"/><line x1="3026" y1="264.3" x2="3026" y2="1675" stroke="#000" stroke-width="4.2" stroke-linecap="round" stroke-dasharray="8.1 12.966" stroke-dashoffset="4.52"/><line x1="3282" y1="259" x2="3282" y2="1675" stroke="#000" stroke-width="4.2" stroke-linecap="round" stroke-dasharray="8.1 12.73" stroke-dashoffset="4.38"/>
<path d="M 1177.10 1317.50 L 1204.85 1365.90 L 1149.35 1365.90 Z" fill="#000" stroke="#000" stroke-width="11.0" stroke-linejoin="round"/><path d="M 1177.10 1317.50 L 1204.85 1365.90 L 1149.35 1365.90 Z" fill="#ef6662" stroke="#ef6662" stroke-width="5.80" stroke-linejoin="round"/>
<path d="M 1713.40 1317.50 L 1741.15 1365.90 L 1685.65 1365.90 Z" fill="#000" stroke="#000" stroke-width="11.0" stroke-linejoin="round"/><path d="M 1713.40 1317.50 L 1741.15 1365.90 L 1685.65 1365.90 Z" fill="#ef6662" stroke="#ef6662" stroke-width="5.80" stroke-linejoin="round"/>
<path d="M 1394.65 1471.50 L 1450.15 1471.50 L 1422.40 1519.90 Z" fill="#000" stroke="#000" stroke-width="11.0" stroke-linejoin="round"/><path d="M 1394.65 1471.50 L 1450.15 1471.50 L 1422.40 1519.90 Z" fill="#8dc63f" stroke="#8dc63f" stroke-width="5.80" stroke-linejoin="round"/>
<path d="M 2587.00 1224.70 L 2614.75 1273.10 L 2559.25 1273.10 Z" fill="#000" stroke="#000" stroke-width="11.0" stroke-linejoin="round"/><path d="M 2587.00 1224.70 L 2614.75 1273.10 L 2559.25 1273.10 Z" fill="#ef6662" stroke="#ef6662" stroke-width="5.80" stroke-linejoin="round"/>
<path d="M 2903.90 1224.70 L 2931.65 1273.10 L 2876.15 1273.10 Z" fill="#000" stroke="#000" stroke-width="11.0" stroke-linejoin="round"/><path d="M 2903.90 1224.70 L 2931.65 1273.10 L 2876.15 1273.10 Z" fill="#ef6662" stroke="#ef6662" stroke-width="5.80" stroke-linejoin="round"/>
<path d="M 3449.10 1224.60 L 3476.85 1273.00 L 3421.35 1273.00 Z" fill="#000" stroke="#000" stroke-width="11.0" stroke-linejoin="round"/><path d="M 3449.10 1224.60 L 3476.85 1273.00 L 3421.35 1273.00 Z" fill="#ef6662" stroke="#ef6662" stroke-width="5.80" stroke-linejoin="round"/>
<path d="M 3125.65 1377.50 L 3181.15 1377.50 L 3153.40 1425.90 Z" fill="#000" stroke="#000" stroke-width="11.0" stroke-linejoin="round"/><path d="M 3125.65 1377.50 L 3181.15 1377.50 L 3153.40 1425.90 Z" fill="#8dc63f" stroke="#8dc63f" stroke-width="5.80" stroke-linejoin="round"/>
<text x="989.1" y="133.0" font-family="'Liberation Sans', sans-serif" font-weight="bold" font-size="78" fill="#000" textLength="611.6" lengthAdjust="spacingAndGlyphs">Van 6-metrowy</text>
<text x="1124.5" y="217.0" font-family="'Liberation Sans', sans-serif" font-weight="bold" font-size="78" fill="#000" textLength="341.1" lengthAdjust="spacingAndGlyphs">przykład</text>
<text x="2552.2" y="133.0" font-family="'Liberation Sans', sans-serif" font-weight="bold" font-size="78" fill="#000" textLength="922.5" lengthAdjust="spacingAndGlyphs">17-metrowa ciężarówka</text>
<text x="2653.7" y="217.0" font-family="'Liberation Sans', sans-serif" font-weight="bold" font-size="78" fill="#000" textLength="742.9" lengthAdjust="spacingAndGlyphs">z naczepą przykład</text>
<text x="736.6" y="344.5" font-family="'Liberation Sans', sans-serif" font-weight="bold" font-size="57.5" fill="#000" textLength="206.2" lengthAdjust="spacingAndGlyphs">Stawka</text>
<text x="736.6" y="411.0" font-family="'Liberation Sans', sans-serif" font-weight="bold" font-size="57.5" fill="#000" textLength="207.9" lengthAdjust="spacingAndGlyphs">frachtu</text>
<text x="1122.4" y="377.0" font-family="'Liberation Sans', sans-serif" font-weight="bold" font-size="57.5" fill="#000" textLength="94.9" lengthAdjust="spacingAndGlyphs">ETS</text>
<text x="1368.1" y="377.0" font-family="'Liberation Sans', sans-serif" font-weight="bold" font-size="57.5" fill="#000" textLength="105.8" lengthAdjust="spacingAndGlyphs">BAF</text>
<text x="1598.5" y="349.8" font-family="'Liberation Sans', sans-serif" font-weight="bold" font-size="57.5" fill="#000" textLength="192.0" lengthAdjust="spacingAndGlyphs">Opłata</text>
<text x="1598.6" y="415.8" font-family="'Liberation Sans', sans-serif" font-weight="bold" font-size="57.5" fill="#000" textLength="235.6" lengthAdjust="spacingAndGlyphs">portowa</text>
<text x="2436.4" y="343.8" font-family="'Liberation Sans', sans-serif" font-weight="bold" font-size="57.5" fill="#000" textLength="207.4" lengthAdjust="spacingAndGlyphs">Stawka</text>
<text x="2437.1" y="410.4" font-family="'Liberation Sans', sans-serif" font-weight="bold" font-size="57.5" fill="#000" textLength="208.9" lengthAdjust="spacingAndGlyphs">frachtu</text>
<text x="2855.6" y="377.0" font-family="'Liberation Sans', sans-serif" font-weight="bold" font-size="57.5" fill="#000" textLength="96.0" lengthAdjust="spacingAndGlyphs">ETS</text>
<text x="3101.3" y="377.0" font-family="'Liberation Sans', sans-serif" font-weight="bold" font-size="57.5" fill="#000" textLength="106.3" lengthAdjust="spacingAndGlyphs">BAF</text>
<text x="3332.3" y="349.9" font-family="'Liberation Sans', sans-serif" font-weight="bold" font-size="57.5" fill="#000" textLength="193.4" lengthAdjust="spacingAndGlyphs">Opłata</text>
<text x="3332.0" y="415.8" font-family="'Liberation Sans', sans-serif" font-weight="bold" font-size="57.5" fill="#000" textLength="236.6" lengthAdjust="spacingAndGlyphs">portowa</text>
<text x="1123.2" y="550.7" font-family="'Liberation Sans', sans-serif" font-weight="bold" font-size="58.5" fill="#000" textLength="113.5" lengthAdjust="spacingAndGlyphs">70%</text>
<text x="1101.3" y="1160.7" font-family="'Liberation Sans', sans-serif" font-weight="bold" font-size="58.5" fill="#000" textLength="140.4" lengthAdjust="spacingAndGlyphs">100%</text>
<text x="2852.5" y="517.9" font-family="'Liberation Sans', sans-serif" font-weight="bold" font-size="58.5" fill="#000" textLength="112.4" lengthAdjust="spacingAndGlyphs">70%</text>
<text x="2822.3" y="1140.7" font-family="'Liberation Sans', sans-serif" font-weight="bold" font-size="58.5" fill="#000" textLength="139.5" lengthAdjust="spacingAndGlyphs">100%</text>
<text x="198.9" y="780.9" font-family="'Liberation Sans', sans-serif" font-weight="bold" font-size="81" fill="#000" textLength="189.5" lengthAdjust="spacingAndGlyphs">2025</text>
<text x="201.7" y="1349.9" font-family="'Liberation Sans', sans-serif" font-weight="bold" font-size="81" fill="#000" textLength="189.0" lengthAdjust="spacingAndGlyphs">2026</text>
<text x="857.0" y="815.2" font-family="'Liberation Sans', sans-serif" font-weight="bold" font-size="64.8" fill="#000" textLength="150.0" lengthAdjust="spacingAndGlyphs">€140</text>
<text x="1079.4" y="815.2" font-family="'Liberation Sans', sans-serif" font-weight="bold" font-size="64.8" fill="#000" textLength="180.0" lengthAdjust="spacingAndGlyphs">€3.45</text>
<text x="1324.5" y="815.0" font-family="'Liberation Sans', sans-serif" font-weight="bold" font-size="64.8" fill="#000" textLength="196.7" lengthAdjust="spacingAndGlyphs">€17.03</text>
<text x="1665.9" y="815.0" font-family="'Liberation Sans', sans-serif" font-weight="bold" font-size="64.8" fill="#000" textLength="88.2" lengthAdjust="spacingAndGlyphs">€0</text>
<text x="849.9" y="1445.5" font-family="'Liberation Sans', sans-serif" font-weight="bold" font-size="64.8" fill="#000" textLength="149.0" lengthAdjust="spacingAndGlyphs">€140</text>
<text x="1081.6" y="1439.3" font-family="'Liberation Sans', sans-serif" font-weight="bold" font-size="64.8" fill="#000" textLength="178.9" lengthAdjust="spacingAndGlyphs">€4.93</text>
<text x="1335.5" y="1439.4" font-family="'Liberation Sans', sans-serif" font-weight="bold" font-size="64.8" fill="#000" textLength="178.3" lengthAdjust="spacingAndGlyphs">€9.39</text>
<text x="1660.7" y="1439.4" font-family="'Liberation Sans', sans-serif" font-weight="bold" font-size="64.8" fill="#000" textLength="107.1" lengthAdjust="spacingAndGlyphs">€12</text>
<text x="2507.0" y="741.6" font-family="'Liberation Sans', sans-serif" font-weight="bold" font-size="64.8" fill="#000" textLength="155.5" lengthAdjust="spacingAndGlyphs">€237</text>
<text x="2816.3" y="741.6" font-family="'Liberation Sans', sans-serif" font-weight="bold" font-size="64.8" fill="#000" textLength="176.8" lengthAdjust="spacingAndGlyphs">€6.32</text>
<text x="3056.2" y="741.6" font-family="'Liberation Sans', sans-serif" font-weight="bold" font-size="64.8" fill="#000" textLength="199.0" lengthAdjust="spacingAndGlyphs">€30.81</text>
<text x="3400.3" y="741.6" font-family="'Liberation Sans', sans-serif" font-weight="bold" font-size="64.8" fill="#000" textLength="87.5" lengthAdjust="spacingAndGlyphs">€0</text>
<text x="2497.8" y="1346.3" font-family="'Liberation Sans', sans-serif" font-weight="bold" font-size="64.8" fill="#000" textLength="159.5" lengthAdjust="spacingAndGlyphs">€238</text>
<text x="2814.7" y="1346.3" font-family="'Liberation Sans', sans-serif" font-weight="bold" font-size="64.8" fill="#000" textLength="178.0" lengthAdjust="spacingAndGlyphs">€9.03</text>
<text x="3059.6" y="1346.2" font-family="'Liberation Sans', sans-serif" font-weight="bold" font-size="64.8" fill="#000" textLength="193.5" lengthAdjust="spacingAndGlyphs">€22.13</text>
<text x="3383.4" y="1346.2" font-family="'Liberation Sans', sans-serif" font-weight="bold" font-size="64.8" fill="#000" textLength="122.0" lengthAdjust="spacingAndGlyphs">€24</text>
</svg>
</body></html>
